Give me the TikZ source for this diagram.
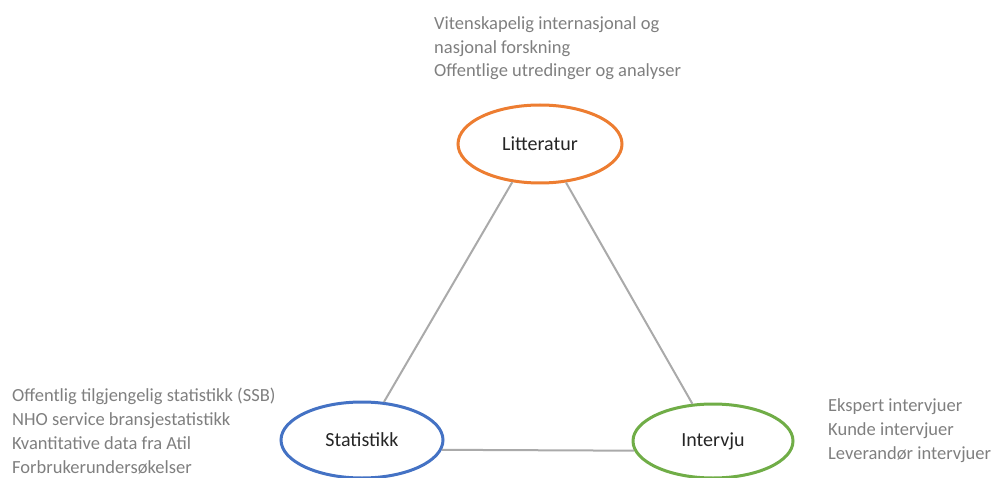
\documentclass[tikz,border=0pt]{standalone}
\usepackage{fontspec}
\setmainfont{Carlito}
\usetikzlibrary{shapes.geometric}
\definecolor{litcol}{RGB}{237,125,49}
\definecolor{statcol}{RGB}{68,114,196}
\definecolor{intcol}{RGB}{112,173,71}
\definecolor{notecol}{RGB}{127,127,127}
\definecolor{edgecol}{RGB}{170,170,170}
\definecolor{labelcol}{RGB}{38,38,38}

\begin{document}
\begin{tikzpicture}[x=1pt, y=-1pt,
    method/.style={ellipse, draw, line width=3pt, fill=white, inner sep=0pt, text=labelcol, font=\fontsize{20}{24}\selectfont},
    note/.style={align=left, anchor=base west, inner sep=0pt, text=notecol, font=\fontsize{18.5}{23.7}\selectfont},
    link/.style={draw=edgecol, line width=2pt}]
    \useasboundingbox (0,0) rectangle (992,478);

    \node[method, draw=litcol, minimum width=164pt, minimum height=78pt] (lit) at (540,144) {Litteratur};
    \node[method, draw=statcol, minimum width=162pt, minimum height=76pt] (stat) at (362,440) {Statistikk};
    \node[method, draw=intcol, minimum width=160pt, minimum height=74pt] (int) at (713,441) {Intervju};

    \foreach \a/\b in {lit.234/stat.60, lit.304/int.119, stat.-7/int.187} {
        \draw[link] (\a) -- (\b);
    }

    % base anchor sits on the last line
    \node[note] (litnote) at (434,77) {Vitenskapelig internasjonal og\\nasjonal forskning\\Offentlige utredinger og analyser};
    \node[note] (statnote) at (12,473) {Offentlig tilgjengelig statistikk (SSB)\\NHO service bransjestatistikk\\Kvantitative data fra Atil\\Forbrukerundersøkelser};
    \node[note] (intnote) at (828,459) {Ekspert intervjuer\\Kunde intervjuer\\Leverandør intervjuer};
\end{tikzpicture}
\end{document}
